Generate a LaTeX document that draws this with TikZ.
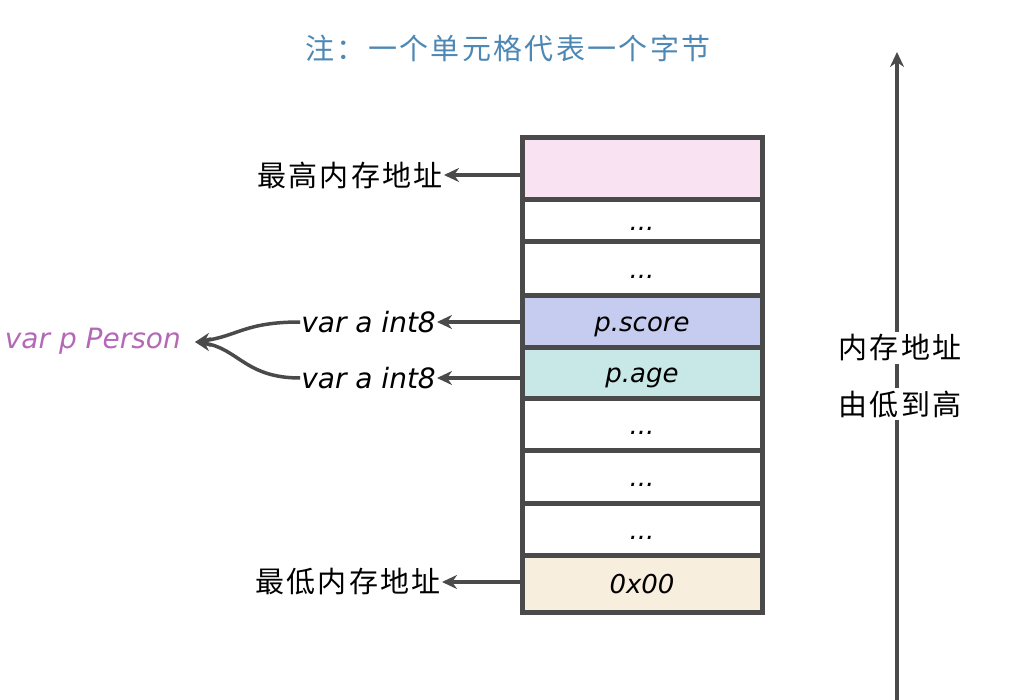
\documentclass[tikz,border=0pt]{standalone}
\usepackage{fontspec}
\setmainfont{DejaVu Sans}
\newfontfamily\cjk{Noto Sans CJK SC}[LetterSpace=8]
\usetikzlibrary{arrows.meta}
\definecolor{ink}{HTML}{4A4A4A}
\definecolor{cpink}{HTML}{F9E2F1}
\definecolor{cblue}{HTML}{C6CCEF}
\definecolor{cteal}{HTML}{C8E8E7}
\definecolor{cbeige}{HTML}{F8EEDD}
\definecolor{ctitle}{HTML}{4D88B5}
\definecolor{cpurple}{HTML}{B468B6}
\begin{document}
\begin{tikzpicture}[x=1pt,y=-1pt,
  cell/.style={draw=ink, line width=5pt, minimum width=240pt, inner sep=0pt,
    text height=22pt, text depth=2pt,
    font=\itshape\fontsize{26}{28}\selectfont, text=black},
  arr/.style={draw=ink, line width=3.5pt, -{Stealth[length=15pt,width=14pt]}},
  cjklab/.style={font=\cjk\fontsize{29}{32}\selectfont, text=black, inner sep=1pt},
  latlab/.style={font=\itshape\fontsize{28}{30}\selectfont, text=black, inner sep=1pt}
]
\useasboundingbox (0,0) rectangle (1014,700);
% title
\node[font=\cjk\fontsize{29}{32}\selectfont, text=ctitle, anchor=center] (title) at (508,48) {注：一个单元格代表一个字节};
% memory cells
\node[cell, fill=cpink,  minimum height=62pt] (c1) at (642,169) {};
\node[cell, fill=white,  minimum height=42pt] (c2) at (642,221) {...};
\node[cell, fill=white,  minimum height=54pt] (c3) at (642,269) {...};
\node[cell, fill=cblue,  minimum height=51pt] (c4) at (642,321.5) {p.score};
\node[cell, fill=cteal,  minimum height=51pt] (c5) at (642,372.5) {p.age};
\node[cell, fill=white,  minimum height=52pt] (c6) at (642,424) {...};
\node[cell, fill=white,  minimum height=53pt] (c7) at (642,476.5) {...};
\node[cell, fill=white,  minimum height=52pt] (c8) at (642,529) {...};
\node[cell, fill=cbeige, minimum height=57pt] (c9) at (642,583.5) {0x00};
% left labels
\node[cjklab, anchor=east] (hi) at (444,175) {最高内存地址};
\node[cjklab, anchor=east] (lo) at (442,582) {最低内存地址};
\node[latlab, anchor=east] (va1) at (437,322) {var a int8};
\node[latlab, anchor=east] (va2) at (437,378) {var a int8};
\node[latlab, anchor=east, text=cpurple] (pp) at (182,341) {var p Person};
\coordinate (tip) at (195,342);
\draw[arr] (c1.west |- hi) -- (hi.east);
\draw[arr] (c9.west |- lo) -- (lo.east);
\draw[arr] (c4.west |- va1) -- (va1.east);
\draw[arr] (c5.west |- va2) -- (va2.east);
\draw[arr] (va1.west) .. controls (245,322) and (238,336) .. (tip);
\draw[arr] (va2.west) .. controls (245,378) and (238,348) .. (tip);
% right axis
\coordinate (axb) at (897,700);
\coordinate (axt) at (897,52);
\draw[arr] (axb) -- (axt);
\node[cjklab, fill=white, inner sep=3pt] (ax1) at (900,348) {内存地址};
\node[cjklab, fill=white, inner sep=3pt] (ax2) at (900,404) {由低到高};
\end{tikzpicture}
\end{document}
